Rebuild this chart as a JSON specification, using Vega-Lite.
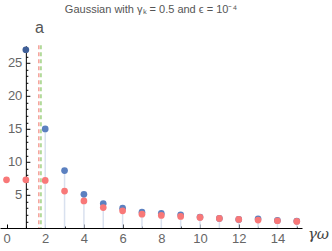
{
  "$schema": "https://vega.github.io/schema/vega-lite/v6.json",
  "width": 302,
  "height": 182.2,
  "autosize": {"type": "none"},
  "padding": {"left": 0, "top": 45.8, "right": 30, "bottom": 23},
  "background": "white",
  "config": {"view": {"stroke": null}},
  "title": {
    "text": "Gaussian with γₖ = 0.5 and ϵ = 10⁻⁴",
    "fontSize": 11,
    "font": "Liberation Sans",
    "fontWeight": "normal",
    "color": "#555555",
    "anchor": "middle",
    "baseline": "bottom",
    "offset": -6
  },
  "datasets": {
    "blue": [
      {"x": 1, "y": 27}, {"x": 2, "y": 15}, {"x": 3, "y": 8.7}, {"x": 4, "y": 5.1},
      {"x": 5, "y": 3.7}, {"x": 6, "y": 3.0}, {"x": 7, "y": 2.4}, {"x": 8, "y": 2.2},
      {"x": 9, "y": 2.0}, {"x": 10, "y": 1.65}, {"x": 11, "y": 1.45}, {"x": 12, "y": 1.3},
      {"x": 13, "y": 1.4}, {"x": 14, "y": 1.15}, {"x": 15, "y": 1.05}
    ],
    "red": [
      {"x": 0, "y": 7.3}, {"x": 1, "y": 7.3}, {"x": 2, "y": 7.2}, {"x": 3, "y": 5.6},
      {"x": 4, "y": 4.1}, {"x": 5, "y": 3.1}, {"x": 6, "y": 2.6}, {"x": 7, "y": 2.1},
      {"x": 8, "y": 1.9}, {"x": 9, "y": 1.75}, {"x": 10, "y": 1.6}, {"x": 11, "y": 1.45},
      {"x": 12, "y": 1.3}, {"x": 13, "y": 1.2}, {"x": 14, "y": 1.1}, {"x": 15, "y": 1.0}
    ],
    "lines": [
      {"x": 1.67, "y": 27.7, "k": "a"},
      {"x": 1.78, "y": 27.7, "k": "b"}
    ]
  },
  "encoding": {
    "x": {
      "field": "x",
      "type": "quantitative",
      "scale": {"domain": [-0.336, 15.27], "nice": false, "zero": false},
      "axis": {
        "values": [0, 1, 2, 3, 4, 5, 6, 7, 8, 9, 10, 11, 12, 13, 14, 15],
        "labelExpr": "datum.value % 2 == 0 ? datum.label : ''",
        "labelFlush": false,
        "labelOverlap": false,
        "labelFont": "Liberation Sans",
        "labelFontSize": 13,
        "labelColor": "#666666",
        "labelPadding": 8,
        "grid": false,
        "domainColor": "#000000",
        "domainWidth": 1,
        "tickColor": "#000000",
        "tickSize": {"condition": {"test": "datum.value % 2 == 0", "value": -4}, "value": -2},
        "title": "γω",
        "titleX": 318,
        "titleY": 5,
        "titleAngle": 0,
        "titleAlign": "center",
        "titleBaseline": "middle",
        "titleFont": "DejaVu Serif",
        "titleFontStyle": "italic",
        "titleFontWeight": "normal",
        "titleFontSize": 15,
        "titleColor": "#444444"
      }
    },
    "y": {
      "field": "y",
      "type": "quantitative",
      "scale": {"domain": [0, 27.6], "nice": false, "zero": false},
      "axis": {
        "offset": -25.85,
        "values": [1, 2, 3, 4, 5, 6, 7, 8, 9, 10, 11, 12, 13, 14, 15, 16, 17, 18, 19, 20, 21, 22, 23, 24, 25, 26, 27],
        "labelExpr": "datum.value % 5 == 0 ? datum.label : ''",
        "labelOverlap": false,
        "labelFont": "Liberation Sans",
        "labelFontSize": 13,
        "labelColor": "#666666",
        "labelPadding": 8,
        "grid": false,
        "domainColor": "#000000",
        "domainWidth": 1,
        "tickColor": "#000000",
        "tickSize": {"condition": {"test": "datum.value % 5 == 0", "value": -4}, "value": -2},
        "title": "a",
        "titleX": 13,
        "titleY": -18,
        "titleAngle": 0,
        "titleAlign": "center",
        "titleBaseline": "middle",
        "titleFont": "Liberation Sans",
        "titleFontWeight": "normal",
        "titleFontSize": 16,
        "titleColor": "#555555"
      }
    }
  },
  "layer": [
    {
      "data": {"name": "blue"},
      "transform": [{"filter": "datum.x > 1"}],
      "mark": {"type": "rule", "color": "#d9e1ef", "strokeWidth": 1.5},
      "encoding": {"y2": {"datum": 0}}
    },
    {
      "data": {"name": "lines"},
      "mark": {"type": "rule", "strokeDash": [4, 3], "strokeWidth": 1.6},
      "encoding": {
        "y2": {"datum": 0},
        "color": {
          "field": "k",
          "type": "nominal",
          "scale": {"domain": ["a", "b"], "range": ["#f4a59d", "#a6d48a"]},
          "legend": null
        }
      }
    },
    {
      "data": {"name": "blue"},
      "mark": {"type": "circle", "size": 45, "opacity": 1},
      "encoding": {
        "color": {
          "condition": {"test": "datum.x == 1", "value": "#3f5f98"},
          "value": "#5b80c0"
        }
      }
    },
    {
      "data": {"name": "red"},
      "mark": {"type": "circle", "size": 45, "opacity": 1, "color": "#f87878"}
    }
  ]
}
